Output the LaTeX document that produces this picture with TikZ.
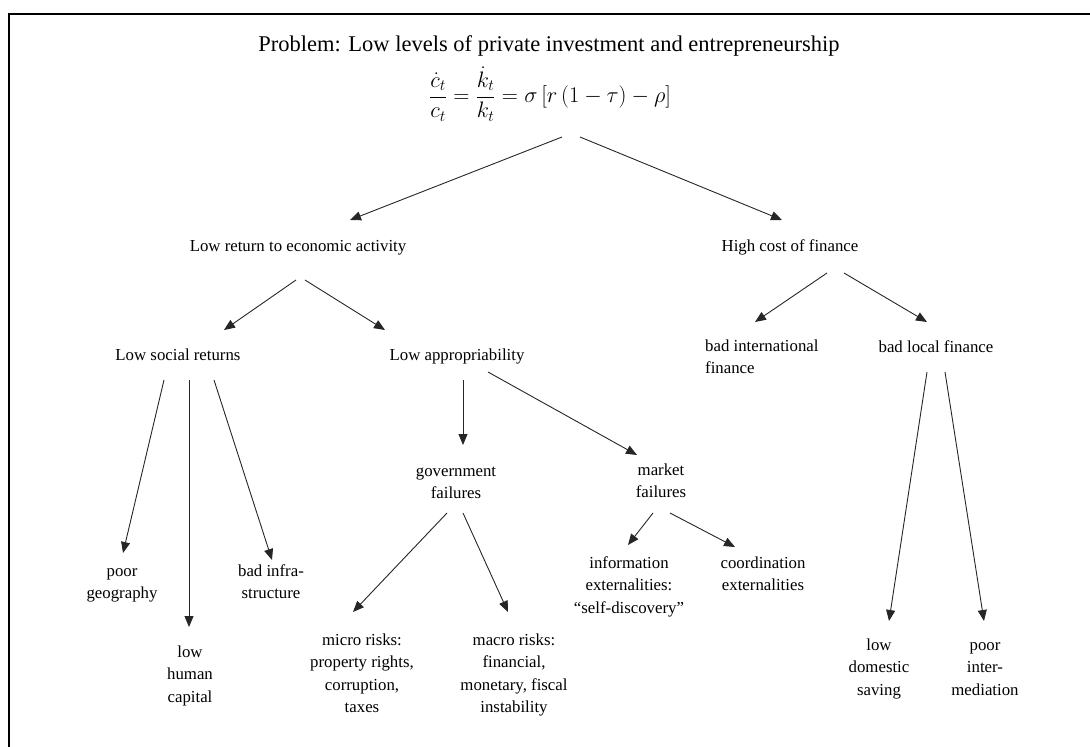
\documentclass[tikz,border=0pt]{standalone}
\usepackage{fontspec}
\setmainfont{Liberation Serif}
\usetikzlibrary{arrows.meta}
\newcommand{\mlc}[1]{\begin{tabular}[t]{@{}c@{}}#1\end{tabular}}
\newcommand{\mll}[1]{\begin{tabular}[t]{@{}l@{}}#1\end{tabular}}
\tikzset{
  txt/.style={font=\fontsize{16.8}{22.5}\selectfont, inner sep=0pt, anchor=base},
  txtl/.style={font=\fontsize{16.8}{22.5}\selectfont, inner sep=0pt, anchor=base west},
  arr/.style={draw=black!85, line width=0.9pt, -{Triangle[length=11pt,width=9pt]}},
  frame/.style={line width=2pt, black}
}
\begin{document}
\begin{tikzpicture}[x=1pt,y=-1pt]
\useasboundingbox (0,0) rectangle (1090,747);
\draw[frame] (8.5,747) -- (8.5,14) -- (1090,14);

\node[txt, font=\fontsize{22.5}{27}\selectfont] (title) at (549,51) {Problem: Low levels of private investment and entrepreneurship};
\node[inner sep=0pt, scale=1.08, font=\fontsize{22}{27}\selectfont] (eq) at (550,94) {$\displaystyle \frac{\dot c_t}{c_t}=\frac{\dot k_t}{k_t}=\sigma\,[r\,(1-\tau)-\rho]$};

\node[txt] (lre) at (298,251) {Low return to economic activity};
\node[txt] (hcf) at (790,251) {High cost of finance};
\node[txt] (lsr) at (178,360) {Low social returns};
\node[txt] (lap) at (457,360) {Low appropriability};
\node[txtl] (bif) at (705,351) {\mll{bad international\\finance}};
\node[txt] (blf) at (936,352) {bad local finance};
\node[txt] (pg) at (122,576) {\mlc{poor\\geography}};
\node[txt] (lhc) at (190,657) {\mlc{low\\human\\capital}};
\node[txt] (bis) at (271,576) {\mlc{bad infra-\\structure}};
\node[txt] (gf) at (456,476) {\mlc{government\\failures}};
\node[txt] (mf) at (661,475) {\mlc{market\\failures}};
\node[txt] (mic) at (362,645) {\mlc{micro risks:\\property rights,\\corruption,\\taxes}};
\node[txt] (mac) at (514,645) {\mlc{macro risks:\\financial,\\monetary, fiscal\\instability}};
\node[txt] (inf) at (629,568) {\mlc{information\\externalities:\\``self-discovery''}};
\node[txt] (coe) at (763,568) {\mlc{coordination\\externalities}};
\node[txt] (lds) at (879,650) {\mlc{low\\domestic\\saving}};
\node[txt] (pim) at (985,650) {\mlc{poor\\inter-\\mediation}};

\draw[arr] ([shift={(12,43)}]eq.center) -- ([shift={(52,-31)}]lre.base);
\draw[arr] ([shift={(30,43)}]eq.center) -- ([shift={(-8,-31)}]hcf.base);
\draw[arr] ([shift={(-2,29)}]lre.base) -- ([shift={(46,-30)}]lsr.base);
\draw[arr] ([shift={(7,29)}]lre.base) -- ([shift={(-72,-30)}]lap.base);
\draw[arr] ([shift={(37,22)}]hcf.base) -- ([shift={(50,-29)}]bif.base west);
\draw[arr] ([shift={(54,22)}]hcf.base) -- ([shift={(-9,-30)}]blf.base);
\draw[arr] ([shift={(-14,20)}]lsr.base) -- ([shift={(1,-23)}]pg.base);
\draw[arr] ([shift={(11,20)}]lsr.base) -- ([shift={(-1,-30)}]lhc.base);
\draw[arr] ([shift={(36,20)}]lsr.base) -- ([shift={(1,-16)}]bis.base);
\draw[arr] ([shift={(6,20)}]lap.base) -- ([shift={(7,-31)}]gf.base);
\draw[arr] ([shift={(31,12)}]lap.base) -- ([shift={(-24,-20)}]mf.base);
\draw[arr] ([shift={(-9,37)}]gf.base) -- ([shift={(-9,-33)}]mic.base);
\draw[arr] ([shift={(7,37)}]gf.base) -- ([shift={(-6,-33)}]mac.base);
\draw[arr] ([shift={(-8,38)}]mf.base) -- ([shift={(-1,-23)}]inf.base);
\draw[arr] ([shift={(9,38)}]mf.base) -- ([shift={(-28,-21)}]coe.base);
\draw[arr] ([shift={(-9,20)}]blf.base) -- ([shift={(10,-29)}]lds.base);
\draw[arr] ([shift={(9,20)}]blf.base) -- ([shift={(-1,-29)}]pim.base);
\end{tikzpicture}
\end{document}
